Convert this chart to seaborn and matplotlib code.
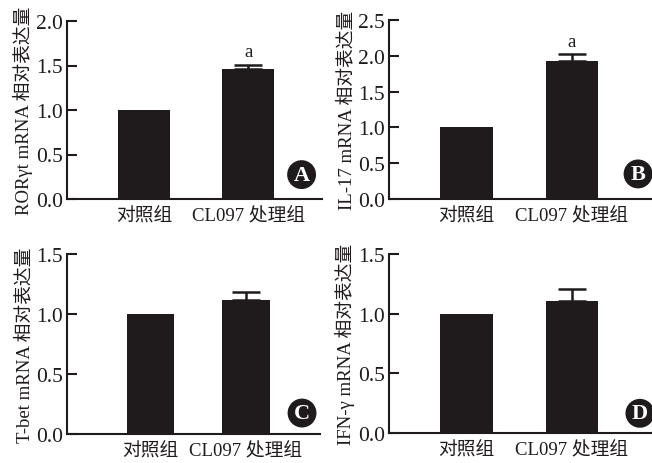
import matplotlib
matplotlib.use("Agg")
import matplotlib.pyplot as plt
import seaborn as sns
import pandas as pd

sns.set_theme(style="ticks")
plt.rcParams['font.family'] = ['Liberation Serif', 'Noto Sans CJK SC']
plt.rcParams['axes.unicode_minus'] = False

# Groups and measured relative expression (mean, upper error)
groups = ["对照组", "CL097 处理组"]
ror_mean = [1.00, 1.46]
ror_err = [0.00, 0.05]
il17_mean = [1.00, 1.93]
il17_err = [0.00, 0.09]
tbet_mean = [1.00, 1.12]
tbet_err = [0.00, 0.06]
ifn_mean = [1.00, 1.11]
ifn_err = [0.00, 0.10]

ylabels = ["RORγt mRNA 相对表达量", "IL-17 mRNA 相对表达量",
           "T-bet mRNA 相对表达量", "IFN-γ mRNA 相对表达量"]
yticks = [[0.0, 0.5, 1.0, 1.5, 2.0],
          [0.0, 0.5, 1.0, 1.5, 2.0, 2.5],
          [0.0, 0.5, 1.0, 1.5],
          [0.0, 0.5, 1.0, 1.5]]
sig_marks = [[None, "a"], [None, "a"], [None, None], [None, None]]
panel_letters = ["A", "B", "C", "D"]

means = [ror_mean, il17_mean, tbet_mean, ifn_mean]
errs = [ror_err, il17_err, tbet_err, ifn_err]

fig = plt.figure(figsize=(6.52, 4.64), dpi=100)
W, H = 652, 464
# axes boxes in pixels: left, top, right, bottom
boxes = [(67, 22, 322, 200), (389, 21, 652, 200),
         (67, 255, 320, 434.7), (389, 255, 652, 434)]
xlims = [(-0.74, 1.71), (-0.735, 1.76), (-0.874, 1.775), (-0.735, 1.76)]
letter_pos = [(0.92, 0.137), (0.947, 0.14), (0.929, 0.115), (0.954, 0.11)]

for i in range(4):
    l, t, r, b = boxes[i]
    ax = fig.add_axes([l / W, 1 - b / H, (r - l) / W, (b - t) / H])
    ax.patch.set_alpha(0)
    df = pd.DataFrame({"group": groups, "value": means[i]})
    sns.barplot(data=df, x="group", y="value", color="#1f1a1b",
                saturation=1, width=0.5, errorbar=None, ax=ax, zorder=2)
    for p in ax.patches:
        p.set_edgecolor("none")
    # upper-only error bars
    xs = [k for k, e in enumerate(errs[i]) if e > 0]
    ax.errorbar(xs, [means[i][k] for k in xs],
                yerr=[[0] * len(xs), [errs[i][k] for k in xs]],
                fmt="none", ecolor="#1f1a1b", elinewidth=1.8,
                capsize=10, capthick=1.8, zorder=3)
    for k, m in enumerate(sig_marks[i]):
        if m:
            ax.text(k, means[i][k] + errs[i][k] + 0.025 * yticks[i][-1], m,
                    ha="center", va="bottom", fontsize=13.5, color="#1f1a1b")
    ax.set_xlim(*xlims[i])
    ax.set_ylim(0, yticks[i][-1])
    ax.set_yticks(yticks[i])
    ax.set_yticklabels([f"{v:.1f}" for v in yticks[i]], fontsize=15.5)
    ax.set_xticks([0, 1])
    ax.set_xticklabels(groups, fontsize=13.5)
    ax.tick_params(axis="y", direction="in", length=7, width=1.5,
                   pad=3, colors="#1f1a1b")
    ax.tick_params(axis="x", length=0, pad=6, colors="#1f1a1b")
    ax.set_xlabel("")
    ax.set_ylabel(ylabels[i], fontsize=13.5, labelpad=2, color="#1f1a1b")
    for s in ["top", "right"]:
        ax.spines[s].set_visible(False)
    for s in ["left", "bottom"]:
        ax.spines[s].set_linewidth(1.5)
        ax.spines[s].set_color("#1f1a1b")
    lx, ly = letter_pos[i]
    ax.text(lx, ly, panel_letters[i], transform=ax.transAxes,
            ha="center", va="center", fontsize=16, fontweight="bold",
            color="white", zorder=5,
            bbox=dict(boxstyle="circle,pad=0.2", fc="#1f1a1b", ec="none"))

fig.savefig("out.png", dpi=100)
